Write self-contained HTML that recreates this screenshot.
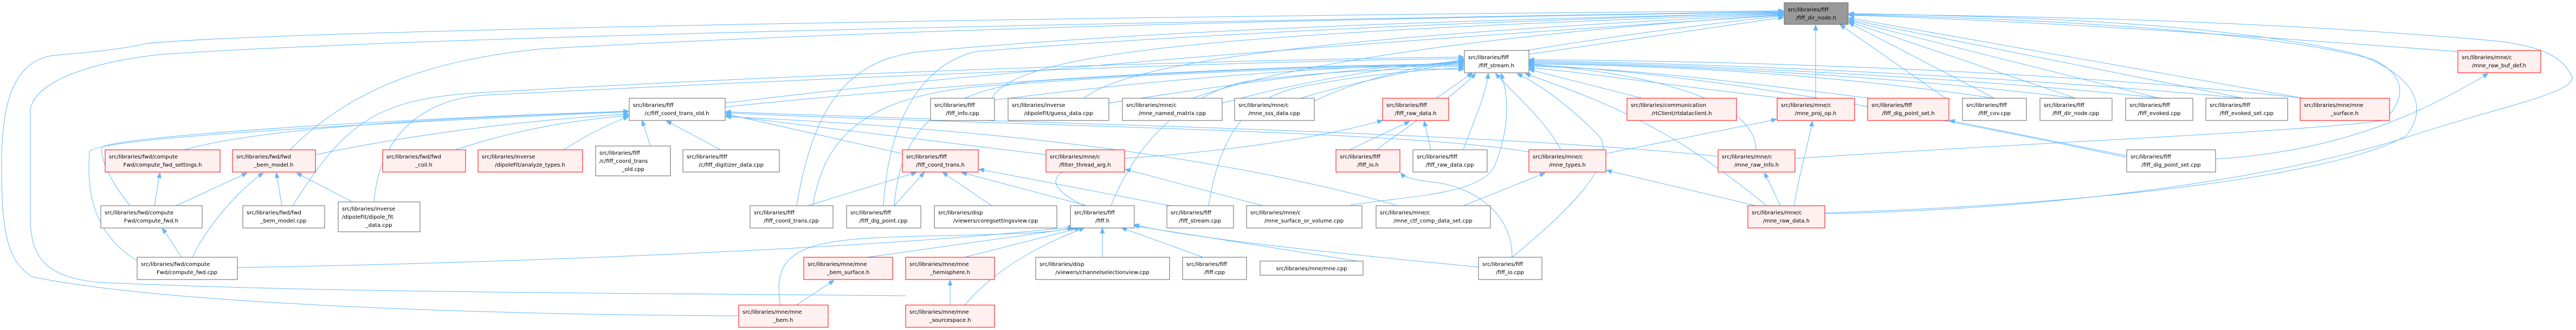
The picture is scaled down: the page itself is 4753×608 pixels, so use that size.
<!DOCTYPE html>
<html><head><meta charset="utf-8"><style>
html,body{margin:0;padding:0;background:#fff;}
svg{display:block;}
.w{fill:#fff;stroke:#666;stroke-width:1;}
.r{fill:#fff0f0;stroke:#f00;stroke-width:1;}
.g{fill:#999;stroke:#666;stroke-width:1;}
text{font-family:"DejaVu Sans","Liberation Sans",sans-serif;font-size:10px;fill:#000;}
.c{text-anchor:middle;}
path{fill:none;stroke:#63b8ff;stroke-width:1;}
</style></head><body>
<svg width="4753" height="608" viewBox="0 0 4753 608" xmlns="http://www.w3.org/2000/svg">
<defs><marker id="a" markerWidth="10" markerHeight="8" refX="9" refY="4" orient="auto" markerUnits="userSpaceOnUse"><path d="M0,0 L10,4 L0,8 z" style="fill:#63b8ff;stroke:#63b8ff"/></marker></defs>
<g marker-end="url(#a)">
<!-- to dir_node left -->
<path d="M2821,100 L3290,32"/>
<path d="M1338,190 C1900,120 2800,60 3290,28"/>
<path d="M1830,181 C1880,90 2300,60 3290,25"/>
<path d="M2000,181 C2100,100 2600,60 3290,26"/>
<path d="M2200,181 C2400,110 2800,60 3290,27"/>
<path d="M2400,181 C2600,120 3000,60 3290,29"/>
<path d="M1470,379 C1500,200 1560,110 1700,95 C2200,50 2800,35 3290,24"/>
<path d="M1630,379 C1640,220 1700,120 1800,95 C2300,55 2900,35 3290,23"/>
<path d="M535,276 C650,160 800,110 1000,90 C1800,45 2800,30 3290,22"/>
<path d="M1363,582 C900,580 300,560 60,510 C10,480 3,420 3,300 C3,160 40,110 100,102 C180,95 230,90 270,80 C600,50 2500,25 3290,20"/>
<path d="M1671,545 C1200,540 600,540 180,520 C80,510 56,470 56,400 L56,200 C70,140 200,110 300,100 C900,60 2500,35 3290,21"/>
<!-- to dir_node right -->
<path d="M3680,181 L3412,42"/>
<path d="M3830,181 L3412,40"/>
<path d="M3984,181 L3412,38"/>
<path d="M4140,181 L3412,36"/>
<path d="M4250,181 L3412,33"/>
<path d="M3590,181 L3396,46"/>
<path d="M3350,181 L3350,47"/>
<path d="M4535,95 C4200,70 3800,40 3412,28"/>
<path d="M3367,394 C3800,385 4200,330 4450,250 C4600,200 4760,170 4745,140 C4730,110 4700,85 4600,75 C4200,40 3800,30 3412,26"/>
<path d="M3312,292 C3800,260 4300,240 4400,221 C4440,180 4440,140 4380,110 C4200,60 3800,35 3412,27"/>
<path d="M3367,392 C3800,380 4300,330 4440,250 C4480,200 4460,140 4350,100 C4100,40 3700,30 3412,25"/>
<!-- to fiff_stream.h left -->
<path d="M1338,197 C1800,150 2300,120 2700,118"/>
<path d="M1830,185 C2100,150 2400,125 2700,116"/>
<path d="M2046,190 C2300,150 2500,125 2700,114"/>
<path d="M2255,190 C2400,150 2550,125 2700,112"/>
<path d="M2425,186 C2500,150 2600,125 2700,110"/>
<path d="M2050,379 C2100,250 2200,170 2300,150 C2450,130 2600,125 2700,128"/>
<path d="M2230,379 C2250,250 2300,180 2400,160 C2500,140 2600,130 2700,125"/>
<path d="M1500,379 C1520,250 1600,180 1800,160 C2200,130 2500,122 2700,122"/>
<path d="M1650,379 C1660,250 1720,175 1900,150 C2300,125 2500,120 2700,120"/>
<path d="M540,379 C640,220 700,180 900,170 C1600,130 2300,110 2700,105"/>
<path d="M690,372 C700,250 780,180 900,175 C1600,140 2300,112 2700,108"/>
<path d="M2650,181 L2716,135"/>
<path d="M2540,276 C2600,230 2680,180 2722,136"/>
<path d="M2700,276 C2720,220 2740,180 2746,136"/>
<path d="M2880,276 C2850,220 2800,180 2760,136"/>
<path d="M2492,378 C2600,360 2740,360 2760,300 C2790,220 2780,170 2770,136"/>
<path d="M2790,474 C2880,400 2990,300 2950,250 C2900,200 2850,160 2800,136"/>
<path d="M3260,379 C3100,250 3000,200 2815,136"/>
<path d="M3240,276 C3240,200 3100,140 2821,118"/>
<path d="M3030,181 L2822,128"/>
<path d="M3290,181 C3100,160 2900,130 2822,125"/>
<path d="M3450,181 C3200,150 3000,125 2822,122"/>
<path d="M3680,181 C3400,140 3100,120 2822,118"/>
<path d="M3830,181 C3500,140 3100,120 2822,116"/>
<path d="M3990,181 C3600,140 3100,118 2822,114"/>
<path d="M4140,181 C3700,140 3200,118 2822,112"/>
<path d="M4250,181 C3800,130 3200,112 2822,110"/>
<path d="M3924,290 C3500,200 3100,130 2822,120"/>
<!-- to fiff_coord_trans_old.h left -->
<path d="M340,276 C500,230 900,215 1159,205"/>
<path d="M582,285 C800,240 1000,220 1159,210"/>
<path d="M840,276 C950,240 1050,222 1159,213"/>
<path d="M1040,276 C1080,250 1120,230 1159,215"/>
<path d="M1200,269 L1185,223"/>
<path d="M1330,276 L1230,223"/>
<path d="M240,379 C200,330 180,280 190,270 C240,250 700,220 1159,205"/>
<path d="M253,480 C170,430 160,350 165,280 C170,262 400,240 1159,206"/>
<!-- to cto_h right -->
<path d="M1665,283 L1340,210"/>
<path d="M1930,285 L1340,213"/>
<path d="M2821,280 C2600,240 1800,230 1340,208"/>
<path d="M3170,288 C2700,240 1800,225 1340,206"/>
<path d="M2576,378 C2300,300 1900,240 1340,215"/>
<!-- fiff_coord_trans.h -->
<path d="M1490,379 L1690,318"/>
<path d="M1650,379 L1705,318"/>
<path d="M1830,379 L1740,318"/>
<path d="M2005,379 L1775,318"/>
<path d="M2160,379 L1807,312"/>
<path d="M2330,379 L2077,312"/>
<!-- fiff.h -->
<path d="M1600,474 L1985,420"/>
<path d="M1780,474 L1992,420"/>
<path d="M2034,474 L2034,421"/>
<path d="M2220,474 L2070,420"/>
<path d="M2505,481 L2093,416"/>
<path d="M1440,562 C1420,450 1500,440 1700,435 C1850,432 1950,430 1978,419"/>
<path d="M1780,562 C1850,480 1950,440 2000,420"/>
<path d="M438,493 C900,485 1600,460 1980,418"/>
<path d="M2728,492 C2500,470 2200,440 2093,414"/>
<!-- small ones -->
<path d="M1470,562 L1538,517"/>
<path d="M1753,562 L1753,517"/>
<path d="M285,379 L295,319"/>
<path d="M325,379 L455,319"/>
<path d="M520,379 L510,319"/>
<path d="M650,372 L548,319"/>
<path d="M355,474 C380,420 440,350 485,319"/>
<path d="M335,474 L300,421"/>
<path d="M2490,276 L2600,224"/>
<path d="M2640,276 L2628,224"/>
<path d="M2790,474 C2790,380 2700,340 2640,335 C2600,330 2590,325 2585,319"/>
<path d="M2700,379 L2850,319"/>
<path d="M3240,379 L2965,314"/>
<path d="M2963,283 L3277,220"/>
<path d="M3310,379 C3320,320 3335,270 3344,224"/>
<path d="M3285,379 L3256,319"/>
<path d="M3924,287 L3598,222"/>
<path d="M4088,293 C4300,280 4450,220 4590,136"/>
<path d="M2000,379 C1900,330 1950,300 2100,290 C2300,275 2450,250 2550,222"/>
</g>
<!-- nodes -->
<rect class="g" x="3292" y="5" width="118" height="40"/><text x="3299" y="21">src/libraries/fiff</text><text class="c" x="3351" y="36">/fiff_dir_node.h</text>
<rect class="w" x="2702" y="93" width="119" height="41"/><text x="2709" y="109">src/libraries/fiff</text><text class="c" x="2761" y="124">/fiff_stream.h</text>
<rect class="r" x="4535" y="93" width="153" height="41"/><text x="4542" y="109">src/libraries/mne/c</text><text class="c" x="4611" y="124">/mne_raw_buf_def.h</text>

<rect class="w" x="1161" y="181" width="177" height="41"/><text x="1168" y="197">src/libraries/fiff</text><text class="c" x="1249" y="212">/c/fiff_coord_trans_old.h</text>
<rect class="w" x="1717" y="181" width="118" height="41"/><text x="1724" y="197">src/libraries/fiff</text><text class="c" x="1776" y="212">/fiff_info.cpp</text>
<rect class="w" x="1860" y="181" width="186" height="41"/><text x="1867" y="197">src/libraries/inverse</text><text class="c" x="1953" y="212">/dipoleFit/guess_data.cpp</text>
<rect class="w" x="2071" y="181" width="184" height="41"/><text x="2078" y="197">src/libraries/mne/c</text><text class="c" x="2163" y="212">/mne_named_matrix.cpp</text>
<rect class="w" x="2278" y="181" width="147" height="41"/><text x="2285" y="197">src/libraries/mne/c</text><text class="c" x="2351" y="212">/mne_sss_data.cpp</text>
<rect class="r" x="2551" y="181" width="122" height="41"/><text x="2558" y="197">src/libraries/fiff</text><text class="c" x="2612" y="212">/fiff_raw_data.h</text>
<rect class="r" x="3002" y="181" width="202" height="41"/><text x="3009" y="197">src/libraries/communication</text><text class="c" x="3103" y="212">/rtClient/rtdataclient.h</text>
<rect class="r" x="3279" y="181" width="143" height="41"/><text x="3286" y="197">src/libraries/mne/c</text><text class="c" x="3350" y="212">/mne_proj_op.h</text>
<rect class="r" x="3446" y="181" width="150" height="41"/><text x="3453" y="197">src/libraries/fiff</text><text class="c" x="3521" y="212">/fiff_dig_point_set.h</text>
<rect class="w" x="3621" y="181" width="118" height="41"/><text x="3628" y="197">src/libraries/fiff</text><text class="c" x="3680" y="212">/fiff_cov.cpp</text>
<rect class="w" x="3764" y="181" width="133" height="41"/><text x="3771" y="197">src/libraries/fiff</text><text class="c" x="3830" y="212">/fiff_dir_node.cpp</text>
<rect class="w" x="3922" y="181" width="124" height="41"/><text x="3929" y="197">src/libraries/fiff</text><text class="c" x="3984" y="212">/fiff_evoked.cpp</text>
<rect class="w" x="4070" y="181" width="151" height="41"/><text x="4077" y="197">src/libraries/fiff</text><text class="c" x="4145" y="212">/fiff_evoked_set.cpp</text>
<rect class="r" x="4244" y="181" width="165" height="41"/><text x="4251" y="197">src/libraries/mne/mne</text><text class="c" x="4326" y="212">_surface.h</text>

<rect class="r" x="194" y="276" width="212" height="41"/><text x="201" y="292">src/libraries/fwd/compute</text><text class="c" x="300" y="307">Fwd/compute_fwd_settings.h</text>
<rect class="r" x="429" y="276" width="153" height="41"/><text x="436" y="292">src/libraries/fwd/fwd</text><text class="c" x="505" y="307">_bem_model.h</text>
<rect class="r" x="706" y="276" width="153" height="41"/><text x="713" y="292">src/libraries/fwd/fwd</text><text class="c" x="782" y="307">_coil.h</text>
<rect class="r" x="882" y="276" width="193" height="41"/><text x="889" y="292">src/libraries/inverse</text><text class="c" x="978" y="307">/dipoleFit/analyze_types.h</text>
<rect class="w" x="1099" y="269" width="138" height="55"/><text x="1106" y="285">src/libraries/fiff</text><text x="1106" y="300">/c/fiff_coord_trans</text><text class="c" x="1168" y="315">_old.cpp</text>
<rect class="w" x="1260" y="276" width="178" height="41"/><text x="1267" y="292">src/libraries/fiff</text><text class="c" x="1349" y="307">/c/fiff_digitizer_data.cpp</text>
<rect class="r" x="1665" y="276" width="140" height="41"/><text x="1672" y="292">src/libraries/fiff</text><text class="c" x="1735" y="307">/fiff_coord_trans.h</text>
<rect class="r" x="1930" y="276" width="145" height="41"/><text x="1937" y="292">src/libraries/mne/c</text><text class="c" x="2002" y="307">/filter_thread_arg.h</text>
<rect class="r" x="2465" y="276" width="118" height="41"/><text x="2472" y="292">src/libraries/fiff</text><text class="c" x="2524" y="307">/fiff_io.h</text>
<rect class="w" x="2607" y="276" width="137" height="41"/><text x="2614" y="292">src/libraries/fiff</text><text class="c" x="2675" y="307">/fiff_raw_data.cpp</text>
<rect class="r" x="2821" y="276" width="142" height="41"/><text x="2828" y="292">src/libraries/mne/c</text><text class="c" x="2892" y="307">/mne_types.h</text>
<rect class="r" x="3170" y="276" width="142" height="41"/><text x="3177" y="292">src/libraries/mne/c</text><text class="c" x="3241" y="307">/mne_raw_info.h</text>
<rect class="w" x="3924" y="276" width="164" height="41"/><text x="3931" y="292">src/libraries/fiff</text><text class="c" x="4006" y="307">/fiff_dig_point_set.cpp</text>

<rect class="w" x="186" y="379" width="187" height="41"/><text x="193" y="395">src/libraries/fwd/compute</text><text class="c" x="279" y="410">Fwd/compute_fwd.h</text>
<rect class="w" x="448" y="379" width="151" height="41"/><text x="455" y="395">src/libraries/fwd/fwd</text><text class="c" x="523" y="410">_bem_model.cpp</text>
<rect class="w" x="624" y="372" width="151" height="55"/><text x="631" y="388">src/libraries/inverse</text><text x="631" y="403">/dipoleFit/dipole_fit</text><text class="c" x="699" y="418">_data.cpp</text>
<rect class="w" x="1384" y="379" width="153" height="41"/><text x="1391" y="395">src/libraries/fiff</text><text class="c" x="1460" y="410">/fiff_coord_trans.cpp</text>
<rect class="w" x="1562" y="379" width="137" height="41"/><text x="1569" y="395">src/libraries/fiff</text><text class="c" x="1630" y="410">/fiff_dig_point.cpp</text>
<rect class="w" x="1724" y="379" width="226" height="41"/><text x="1731" y="395">src/libraries/disp</text><text class="c" x="1837" y="410">/viewers/coregsettingsview.cpp</text>
<rect class="w" x="1975" y="379" width="118" height="41"/><text x="1982" y="395">src/libraries/fiff</text><text class="c" x="2034" y="410">/fiff.h</text>
<rect class="w" x="2153" y="379" width="123" height="41"/><text x="2160" y="395">src/libraries/fiff</text><text class="c" x="2214" y="410">/fiff_stream.cpp</text>
<rect class="w" x="2300" y="379" width="213" height="41"/><text x="2307" y="395">src/libraries/mne/c</text><text class="c" x="2406" y="410">/mne_surface_or_volume.cpp</text>
<rect class="w" x="2539" y="379" width="211" height="41"/><text x="2546" y="395">src/libraries/mne/c</text><text class="c" x="2644" y="410">/mne_ctf_comp_data_set.cpp</text>
<rect class="r" x="3225" y="379" width="142" height="41"/><text x="3232" y="395">src/libraries/mne/c</text><text class="c" x="3296" y="410">/mne_raw_data.h</text>

<rect class="w" x="253" y="474" width="185" height="41"/><text x="260" y="490">src/libraries/fwd/compute</text><text class="c" x="345" y="505">Fwd/compute_fwd.cpp</text>
<rect class="r" x="1483" y="474" width="164" height="41"/><text x="1490" y="490">src/libraries/mne/mne</text><text class="c" x="1565" y="505">_bem_surface.h</text>
<rect class="r" x="1671" y="474" width="164" height="41"/><text x="1678" y="490">src/libraries/mne/mne</text><text class="c" x="1753" y="505">_hemisphere.h</text>
<rect class="w" x="1911" y="474" width="247" height="41"/><text x="1918" y="490">src/libraries/disp</text><text class="c" x="2034" y="505">/viewers/channelselectionview.cpp</text>
<rect class="w" x="2182" y="474" width="118" height="41"/><text x="2189" y="490">src/libraries/fiff</text><text class="c" x="2241" y="505">/fiff.cpp</text>
<rect class="w" x="2325" y="481" width="190" height="26"/><text class="c" x="2420" y="498">src/libraries/mne/mne.cpp</text>
<rect class="w" x="2728" y="474" width="117" height="41"/><text x="2735" y="490">src/libraries/fiff</text><text class="c" x="2786" y="505">/fiff_io.cpp</text>

<rect class="r" x="1363" y="562" width="165" height="41"/><text x="1370" y="578">src/libraries/mne/mne</text><text class="c" x="1445" y="593">_bem.h</text>
<rect class="r" x="1671" y="562" width="164" height="41"/><text x="1678" y="578">src/libraries/mne/mne</text><text class="c" x="1753" y="593">_sourcespace.h</text>
</svg>
</body></html>
